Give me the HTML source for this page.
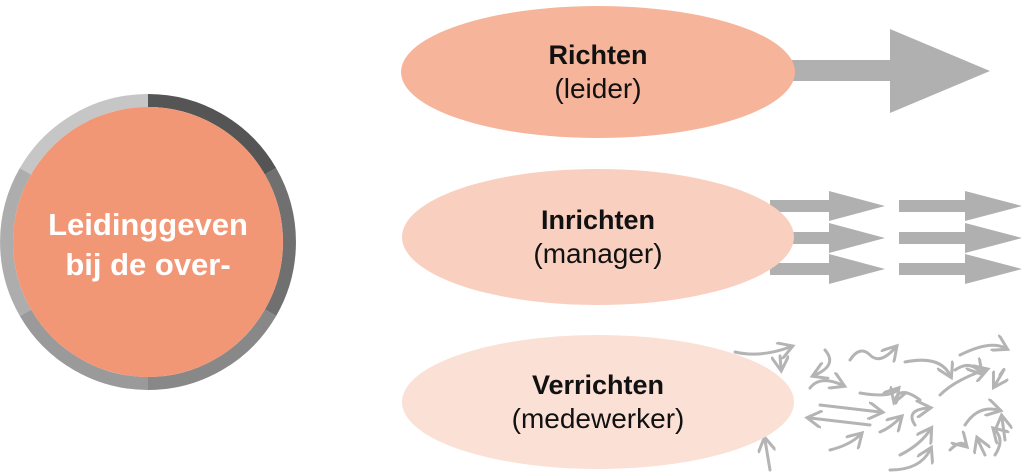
<!DOCTYPE html>
<html><head><meta charset="utf-8"><style>
html,body{margin:0;padding:0;background:#fff;width:1022px;height:476px;overflow:hidden}
svg{display:block}
text{font-family:"Liberation Sans",sans-serif}
</style></head><body>
<svg width="1022" height="476" viewBox="0 0 1022 476" xmlns="http://www.w3.org/2000/svg">
<defs>
<marker id="ah" markerWidth="6" markerHeight="6" refX="4" refY="3" orient="auto" markerUnits="strokeWidth"><path d="M0,0 L5,3 L0,6" fill="none" stroke="#b4b4b4" stroke-width="1"/></marker>
</defs>
<g fill="none" stroke-width="13">
<path d="M148,100.5 A141.5,141.5 0 0 1 270.5,171.25" stroke="#555"/>
<path d="M270.5,171.25 A141.5,141.5 0 0 1 270.5,312.75" stroke="#707070"/>
<path d="M270.5,312.75 A141.5,141.5 0 0 1 148,383.5" stroke="#888"/>
<path d="M148,383.5 A141.5,141.5 0 0 1 25.5,312.75" stroke="#9a9a9a"/>
<path d="M25.5,312.75 A141.5,141.5 0 0 1 25.5,171.25" stroke="#adadad"/>
<path d="M25.5,171.25 A141.5,141.5 0 0 1 148,100.5" stroke="#c6c6c6"/>
</g>
<circle cx="148" cy="242" r="135" fill="#f29776"/>
<text x="148" y="235" fill="#fff" font-size="31" text-anchor="middle" font-weight="bold">Leidinggeven</text>
<text x="148" y="275" fill="#fff" font-size="31" text-anchor="middle" font-weight="bold">bij de over-</text>

<g fill="#b0b0b0">
<polygon points="780,60 890,60 890,29 990,71 890,113 890,81 780,81"/>
<polygon points="770,200 829,200 829,191 885,206 829,221 829,212 770,212"/>
<polygon points="770,232 829,232 829,223 885,238 829,253 829,244 770,244"/>
<polygon points="770,263 829,263 829,254 885,269 829,284 829,275 770,275"/>
<polygon points="899,200 965,200 965,191 1022,206 965,221 965,212 899,212"/>
<polygon points="899,232 965,232 965,223 1022,238 965,253 965,244 899,244"/>
<polygon points="899,263 965,263 965,254 1022,269 965,284 965,275 899,275"/>
</g>
<g fill="none" stroke="#b4b4b4" stroke-width="3" stroke-linecap="round" marker-end="url(#ah)">
<path d="M735,352 Q760,358 790,347"/>
<path d="M780,356 L781,368"/>
<path d="M825,350 Q838,365 815,375"/>
<path d="M850,360 Q860,345 870,355 Q880,365 895,348"/>
<path d="M905,362 Q940,355 950,375"/>
<path d="M960,355 Q990,340 1005,348"/>
<path d="M955,370 Q970,360 980,372"/>
<path d="M810,388 Q820,375 842,385"/>
<path d="M860,393 Q890,398 897,390"/>
<path d="M920,400 Q900,385 895,400"/>
<path d="M940,395 Q955,380 985,370"/>
<path d="M1000,375 Q1010,360 995,385"/>
<path d="M820,405 L880,412"/>
<path d="M870,425 L810,418"/>
<path d="M880,432 Q890,428 900,418"/>
<path d="M915,425 Q905,410 928,408"/>
<path d="M965,425 Q978,405 998,410"/>
<path d="M1005,440 L1002,418"/>
<path d="M830,450 Q850,445 860,435"/>
<path d="M900,455 Q920,445 930,430"/>
<path d="M950,450 Q960,440 965,445"/>
<path d="M985,455 Q980,445 978,440"/>
<path d="M995,455 Q1005,440 995,430"/>
<path d="M770,470 L765,440"/>
<path d="M890,470 Q920,470 930,450"/>
</g>

<ellipse cx="598" cy="72" rx="197" ry="66" fill="#f6b49a"/>
<ellipse cx="598" cy="237" rx="196" ry="68" fill="#f9cfc0"/>
<ellipse cx="598" cy="402" rx="196" ry="67" fill="#fbe0d6"/>
<g fill="#111" text-anchor="middle">
<text x="598" y="64" font-size="27" font-weight="bold">Richten</text>
<text x="598" y="98" font-size="28">(leider)</text>
<text x="598" y="229" font-size="27" font-weight="bold">Inrichten</text>
<text x="598" y="263" font-size="28">(manager)</text>
<text x="598" y="394" font-size="27" font-weight="bold">Verrichten</text>
<text x="598" y="428" font-size="28">(medewerker)</text>
</g>
</svg>
</body></html>
